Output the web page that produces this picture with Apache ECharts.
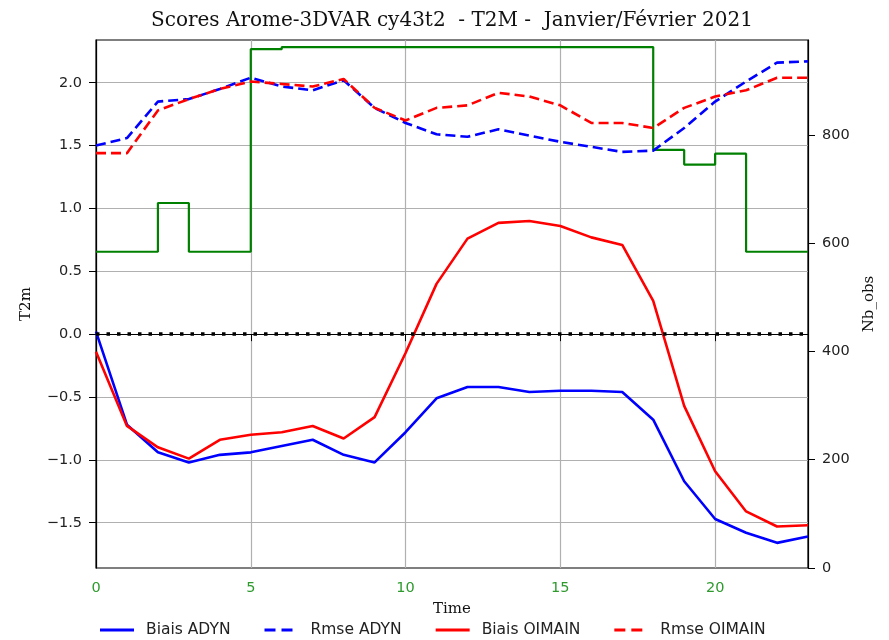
<!DOCTYPE html>
<html>
<head>
<meta charset="utf-8">
<script src="https://cdn.jsdelivr.net/npm/echarts@6/dist/echarts.min.js"></script>
<style>
  html, body { margin: 0; padding: 0; background: #fff; }
  #mainChart { width: 889px; height: 640px; }
</style>
</head>
<body>
<div id="mainChart"></div>
<script>
// data, one value per hour
var hours = [0,1,2,3,4,5,6,7,8,9,10,11,12,13,14,15,16,17,18,19,20,21,22,23];
var biaisAdyn = [0.02,-0.72,-0.94,-1.02,-0.96,-0.94,-0.89,-0.84,-0.96,-1.02,-0.78,-0.51,-0.42,-0.42,-0.46,-0.45,-0.45,-0.46,-0.68,-1.17,-1.47,-1.58,-1.66,-1.61];
var rmseAdyn = [1.50,1.56,1.85,1.87,1.95,2.04,1.97,1.94,2.02,1.80,1.68,1.59,1.57,1.63,1.58,1.53,1.49,1.45,1.46,1.64,1.85,2.01,2.16,2.17];
var biaisOimain = [-0.14,-0.73,-0.90,-0.99,-0.84,-0.80,-0.78,-0.73,-0.83,-0.66,-0.15,0.40,0.76,0.885,0.90,0.86,0.77,0.71,0.265,-0.57,-1.09,-1.41,-1.53,-1.52];
var rmseOimain = [1.44,1.44,1.78,1.87,1.95,2.01,1.99,1.97,2.03,1.80,1.70,1.80,1.82,1.92,1.89,1.82,1.68,1.68,1.64,1.80,1.89,1.94,2.04,2.04];
var nbObs = [584,584,674,584,584,958,962,962,962,962,962,962,962,962,962,962,962,962,772,745,765,584,584,584];

var timeTicks = [0,5,10,15,20];
var t2mTicks = [-1.5,-1.0,-0.5,0.0,0.5,1.0,1.5,2.0];
var obsTicks = [0,200,400,600,800];

function pairs(ys) {
    return hours.map(function (h, i) { return [h, ys[i]]; });
}
function withMinus(s) {
    return String(s).replace('-', '\u2212');
}

// legend handles: drawn line 34px, box 41px so the label sits a bit further away
var solidIcon = 'path://M0,0H34V3H0Z M41,3';
var dashIcon = 'path://M0,0H11V3H0Z M17,0H28V3H17Z M41,3';

var chart = echarts.init(document.getElementById('mainChart'), null, { renderer: 'canvas' });

var option = {
    animation: false,
    backgroundColor: '#fff',
    title: {
        text: 'Scores Arome-3DVAR cy43t2  - T2M -  Janvier/Février 2021',
        left: 447,
        textAlign: 'center',
        top: 6,
        textStyle: { fontFamily: 'DejaVu Serif', fontSize: 20, fontWeight: 'normal', color: '#111' }
    },
    legend: {
        left: 100,
        top: 622,
        padding: 0,
        itemWidth: 41,
        itemHeight: 3,
        itemGap: 34,
        textStyle: { fontFamily: 'DejaVu Sans', fontSize: 15.5, color: '#222' },
        data: [
            { name: 'Biais ADYN', icon: solidIcon },
            { name: 'Rmse ADYN', icon: dashIcon },
            { name: 'Biais OIMAIN', icon: solidIcon },
            { name: 'Rmse OIMAIN', icon: dashIcon }
        ]
    },
    grid: {
        left: 96, right: 81, top: 40, bottom: 72,
        show: true, borderColor: '#000', borderWidth: 1.2, backgroundColor: '#fff'
    },
    xAxis: {
        type: 'value',
        min: 0, max: 23, interval: 5,
        name: 'Time',
        nameLocation: 'middle',
        nameGap: 34,
        nameTextStyle: { fontFamily: 'DejaVu Serif', fontSize: 15, color: '#111' },
        axisLine: { lineStyle: { color: '#000', width: 1.2 } },
        axisTick: { length: 7, lineStyle: { color: '#000' }, customValues: timeTicks },
        axisLabel: { customValues: timeTicks, color: '#2e9a2e', fontFamily: 'DejaVu Sans', fontSize: 14.5, margin: 13 },
        splitLine: { show: true, lineStyle: { color: '#b0b0b0', width: 1.2 } }
    },
    yAxis: [
        {
            type: 'value',
            min: -1.86, max: 2.34,
            splitNumber: 8,
            name: 'T2m',
            nameLocation: 'middle',
            nameRotate: 90,
            nameGap: 62,
            nameTextStyle: { fontFamily: 'DejaVu Serif', fontSize: 15, color: '#111' },
            axisLine: { show: true, lineStyle: { color: '#000', width: 1.2 } },
            axisTick: { show: true, length: 7, lineStyle: { color: '#000' }, customValues: t2mTicks },
            axisLabel: {
                customValues: t2mTicks,
                color: '#222', fontFamily: 'DejaVu Sans', fontSize: 14.5, margin: 14,
                formatter: function (v) { return withMinus(v.toFixed(1)); }
            },
            splitLine: { show: true, lineStyle: { color: '#b0b0b0', width: 1.2 } }
        },
        {
            type: 'value',
            min: 0, max: 975, interval: 200,
            position: 'right',
            name: 'Nb_obs',
            nameLocation: 'middle',
            nameRotate: 90,
            nameGap: 54,
            nameTextStyle: { fontFamily: 'DejaVu Serif', fontSize: 15, color: '#111' },
            axisLine: { show: true, lineStyle: { color: '#000', width: 1.2 } },
            axisTick: { show: true, length: 7, lineStyle: { color: '#000' }, customValues: obsTicks },
            axisLabel: { customValues: obsTicks, color: '#222', fontFamily: 'DejaVu Sans', fontSize: 14.5, margin: 14 },
            splitLine: { show: false }
        }
    ],
    series: [
        {
            name: 'Nb_obs',
            type: 'line',
            yAxisIndex: 1,
            step: 'end',
            symbol: 'none',
            color: '#008000',
            lineStyle: { width: 2.2, color: '#008000' },
            data: pairs(nbObs),
            z: 2
        },
        {
            name: 'Biais ADYN',
            type: 'line',
            symbol: 'none',
            color: '#0000ff',
            lineStyle: { width: 2.6, color: '#0000ff' },
            data: pairs(biaisAdyn),
            markLine: {
                silent: true,
                symbol: 'none',
                label: { show: false },
                lineStyle: { color: '#000', type: [3.5, 7], width: 3.5 },
                data: [{ yAxis: 0 }],
                z: 10
            },
            z: 3
        },
        {
            name: 'Rmse ADYN',
            type: 'line',
            symbol: 'none',
            color: '#0000ff',
            lineStyle: { width: 2.6, color: '#0000ff', type: [10, 5] },
            data: pairs(rmseAdyn),
            z: 3
        },
        {
            name: 'Biais OIMAIN',
            type: 'line',
            symbol: 'none',
            color: '#ff0000',
            lineStyle: { width: 2.6, color: '#ff0000' },
            data: pairs(biaisOimain),
            z: 4
        },
        {
            name: 'Rmse OIMAIN',
            type: 'line',
            symbol: 'none',
            color: '#ff0000',
            lineStyle: { width: 2.6, color: '#ff0000', type: [10, 5] },
            data: pairs(rmseOimain),
            z: 4
        }
    ]
};

chart.setOption(option);
</script>
</body>
</html>
